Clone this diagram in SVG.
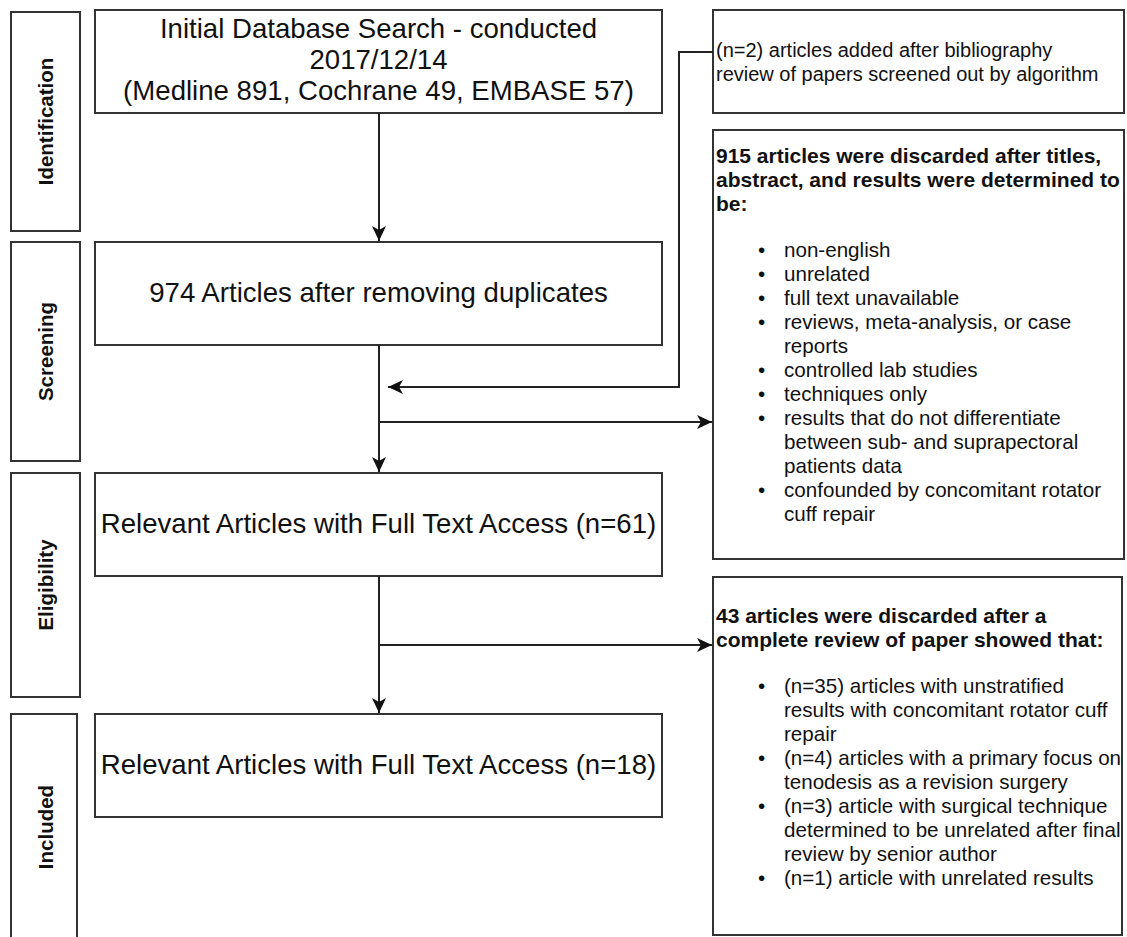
<svg xmlns="http://www.w3.org/2000/svg" width="1127" height="937" viewBox="0 0 1127 937">
<style>
.box{fill:#fff;stroke:#333;stroke-width:2}
.ln{fill:none;stroke:#222;stroke-width:2}
.t{font-family:"Liberation Sans",Arial,sans-serif;fill:#111}
.main{font-size:27.6px;text-anchor:middle}
.ph{font-size:20.5px;font-weight:bold;text-anchor:middle}
.s{font-size:20px}
.s2{font-size:20.6px}
.b{font-size:21px;font-weight:bold}
</style>
<defs>
<marker id="arr" markerUnits="userSpaceOnUse" markerWidth="16" markerHeight="16" viewBox="0 0 16 16" refX="15" refY="8" orient="auto">
<path d="M0,1 L15,8 L0,15 L4,8 Z" fill="#111"/>
</marker>
</defs>
<rect width="1127" height="937" fill="#fff"/>

<g id="phase-identification">
<rect class="box" x="11" y="12" width="69" height="219"/>
<text class="t ph" x="53" y="121.5" transform="rotate(-90 53 121.5)">Identification</text>
</g>
<g id="phase-screening">
<rect class="box" x="11" y="242" width="69" height="219"/>
<text class="t ph" x="53" y="351.5" transform="rotate(-90 53 351.5)">Screening</text>
</g>
<g id="phase-eligibility">
<rect class="box" x="11" y="473" width="69" height="224"/>
<text class="t ph" x="53" y="585" transform="rotate(-90 53 585)">Eligibility</text>
</g>
<g id="phase-included">
<rect class="box" x="11" y="714" width="66" height="230"/>
<text class="t ph" x="53" y="827" transform="rotate(-90 53 827)">Included</text>
</g>

<g id="node-initial">
<rect class="box" x="95" y="10" width="567" height="103"/>
<text class="t main" x="378.5" y="38">Initial Database Search - conducted</text>
<text class="t main" x="378.5" y="69">2017/12/14</text>
<text class="t main" x="378.5" y="100">(Medline 891, Cochrane 49, EMBASE 57)</text>
</g>
<g id="node-974">
<rect class="box" x="95" y="242" width="567" height="103"/>
<text class="t main" x="378.5" y="302">974 Articles after removing duplicates</text>
</g>
<g id="node-61">
<rect class="box" x="95" y="473" width="567" height="103"/>
<text class="t main" x="378.5" y="533">Relevant Articles with Full Text Access (n=61)</text>
</g>
<g id="node-18">
<rect class="box" x="95" y="714" width="567" height="103"/>
<text class="t main" x="378.5" y="774">Relevant Articles with Full Text Access (n=18)</text>
</g>

<g id="node-added">
<rect class="box" x="713" y="10" width="411" height="103"/>
<text class="t s" x="716" y="57">(n=2) articles added after bibliography</text>
<text class="t s" x="716" y="81">review of papers screened out by algorithm</text>
</g>

<g id="node-discarded-915">
<rect class="box" x="713" y="130" width="411" height="429"/>
<text class="t b" x="716" y="163">915 articles were discarded after titles,</text>
<text class="t b" x="716" y="187">abstract, and results were determined to</text>
<text class="t b" x="716" y="211">be:</text>
<g class="t s2">
<text x="758" y="257">•</text><text x="784" y="257">non-english</text>
<text x="758" y="281">•</text><text x="784" y="281">unrelated</text>
<text x="758" y="305">•</text><text x="784" y="305">full text unavailable</text>
<text x="758" y="329">•</text><text x="784" y="329">reviews, meta-analysis, or case</text>
<text x="784" y="353">reports</text>
<text x="758" y="377">•</text><text x="784" y="377">controlled lab studies</text>
<text x="758" y="401">•</text><text x="784" y="401">techniques only</text>
<text x="758" y="425">•</text><text x="784" y="425">results that do not differentiate</text>
<text x="784" y="449">between sub- and suprapectoral</text>
<text x="784" y="473">patients data</text>
<text x="758" y="497">•</text><text x="784" y="497">confounded by concomitant rotator</text>
<text x="784" y="521">cuff repair</text>
</g>
</g>

<g id="node-discarded-43">
<rect class="box" x="713" y="577" width="409" height="358"/>
<text class="t b" x="716" y="623">43 articles were discarded after a</text>
<text class="t b" x="716" y="647">complete review of paper showed that:</text>
<g class="t s2">
<text x="758" y="693">•</text><text x="784" y="693">(n=35) articles with unstratified</text>
<text x="784" y="717">results with concomitant rotator cuff</text>
<text x="784" y="741">repair</text>
<text x="758" y="765">•</text><text x="784" y="765">(n=4) articles with a primary focus on</text>
<text x="784" y="789">tenodesis as a revision surgery</text>
<text x="758" y="813">•</text><text x="784" y="813">(n=3) article with surgical technique</text>
<text x="784" y="837">determined to be unrelated after final</text>
<text x="784" y="861">review by senior author</text>
<text x="758" y="885">•</text><text x="784" y="885">(n=1) article with unrelated results</text>
</g>
</g>

<g id="connectors">
<path class="ln" d="M379,113 L379,241" marker-end="url(#arr)"/>
<path class="ln" d="M379,345 L379,472" marker-end="url(#arr)"/>
<path class="ln" d="M379,422 L712,422" marker-end="url(#arr)"/>
<path class="ln" d="M713,52 L679,52 L679,387 L388,387" marker-end="url(#arr)"/>
<path class="ln" d="M379,576 L379,713" marker-end="url(#arr)"/>
<path class="ln" d="M379,645 L712,645" marker-end="url(#arr)"/>
</g>
</svg>
